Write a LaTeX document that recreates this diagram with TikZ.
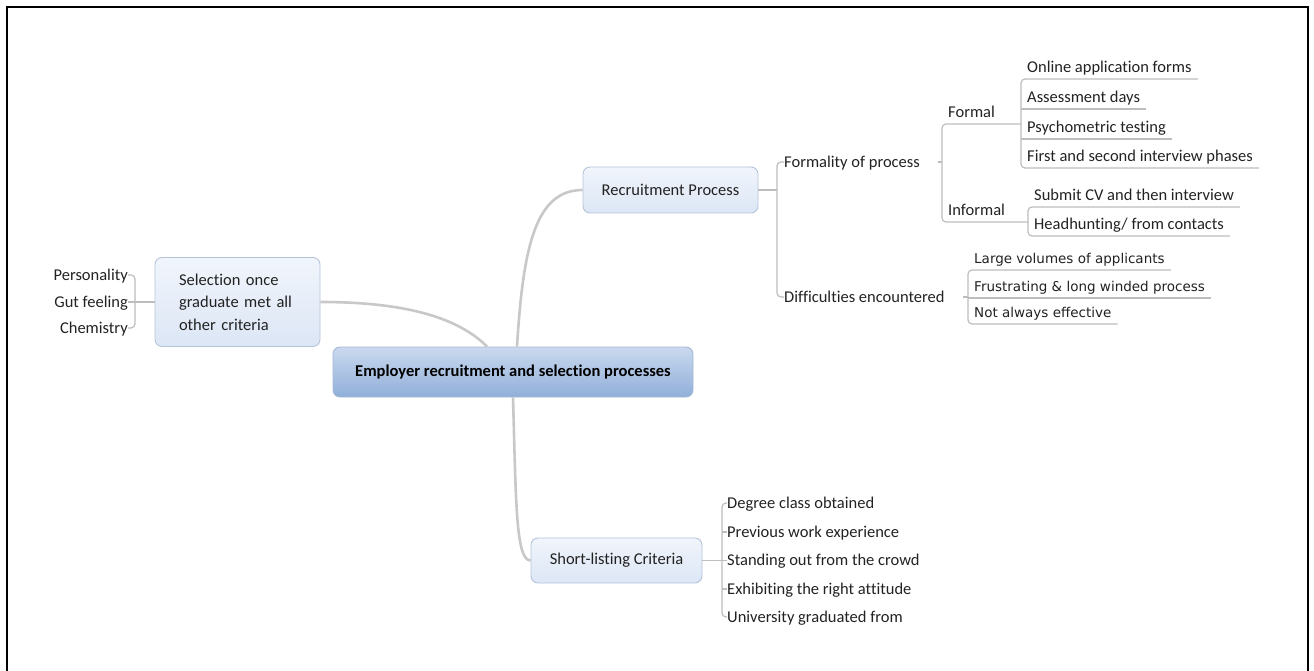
\documentclass[tikz,border=0pt]{standalone}
\usepackage{fontspec}
\setmainfont{Carlito}[Ligatures={NoCommon}]
\newfontfamily\verd{DejaVu Sans}
\definecolor{ink}{HTML}{222222}
\definecolor{branchgray}{HTML}{C8C8C8}
\definecolor{twiggray}{HTML}{BDBDBD}
\definecolor{boxtop}{HTML}{F1F5FC}
\definecolor{boxbot}{HTML}{DCE6F5}
\definecolor{boxline}{HTML}{B4C4DA}
\definecolor{centop}{HTML}{CAD9EE}
\definecolor{cenbot}{HTML}{90AFD9}
\definecolor{cenline}{HTML}{A3B8D5}
\begin{document}
\begin{tikzpicture}[x=1pt,y=-1pt,
  every node/.style={font=\fontsize{16.5}{22.5}\selectfont, text=ink},
  central/.style={draw=cenline, line width=0.9pt, rounded corners=7pt,
    top color=centop, bottom color=cenbot, text=black,
    font=\fontsize{16.5}{20}\selectfont\bfseries,
    minimum width=360pt, minimum height=50pt, inner sep=0pt},
  topic/.style={draw=boxline, line width=0.9pt, rounded corners=7pt,
    top color=boxtop, bottom color=boxbot, inner sep=0pt},
  leaf/.style={inner sep=0pt, text height=10.6pt, text depth=0pt},
  uleaf/.style={anchor=south west, inner xsep=6pt, inner ysep=2.7pt,
    text height=11pt, text depth=4pt},
  vleaf/.style={uleaf, font=\verd\fontsize{13.5}{16}\selectfont},
  branch/.style={draw=branchgray, line width=2.6pt},
  twig/.style={draw=twiggray, line width=1.2pt, rounded corners=4pt}]

\useasboundingbox (0,0) rectangle (1314,671);

% page frame, open at the bottom
\draw[line width=2pt] (7,671) -- (7,7) -- (1308,7) -- (1308,671);

% central topic and main topics
\node[central] (root) at (513,372) {Employer recruitment and selection processes};
\node[topic, minimum width=175pt, minimum height=46pt] (rp) at (670.5,190) {Recruitment Process};
\node[topic, minimum height=89pt, align=left, text width=117pt, inner xsep=24pt]
  (sel) at (237.5,302) {Selection once\\graduate met all\\other criteria};
\node[topic, minimum width=171pt, minimum height=45pt] (sl) at (616.5,560.5) {Short-listing Criteria};

% recruitment process sub-topics
\node[leaf, anchor=west] (form) at (784,162) {Formality of process};
\node[leaf, anchor=west] (diff) at (784,297) {Difficulties encountered};

\node[uleaf, text width=67pt, align=left] (formal) at (942,124) {Formal};
\node[uleaf, text width=74pt, align=left] (informal) at (942,222) {Informal};

\node[uleaf] (o1) at (1021,79) {Online application forms};
\node[uleaf] (o2) at (1021,109) {Assessment days};
\node[uleaf] (o3) at (1021,139) {Psychometric testing};
\node[uleaf] (o4) at (1021,168) {First and second interview phases};

\node[uleaf] (i1) at (1028,207) {Submit CV and then interview};
\node[uleaf] (i2) at (1028,236) {Headhunting/ from contacts};

\node[vleaf] (d1) at (968,270) {Large volumes of applicants};
\node[vleaf] (d2) at (968,298) {Frustrating \& long winded process};
\node[vleaf] (d3) at (968,324) {Not always effective};

% selection sub-topics
\node[leaf, anchor=east] (p1) at (128,275) {Personality};
\node[leaf, anchor=east] (p2) at (128,302) {Gut feeling};
\node[leaf, anchor=east] (p3) at (128,328) {Chemistry};

% short-listing sub-topics
\node[leaf, anchor=west] (s1) at (727,503) {Degree class obtained};
\node[leaf, anchor=west] (s2) at (727,532) {Previous work experience};
\node[leaf, anchor=west] (s3) at (727,560.5) {Standing out from the crowd};
\node[leaf, anchor=west] (s4) at (727,589) {Exhibiting the right attitude};
\node[leaf, anchor=west] (s5) at (727,617) {University graduated from};

% main branches
\draw[branch] ([xshift=4pt]root.north) .. controls +(6,-97) and +(-48,0) .. (rp.west);
\draw[branch] ([xshift=-26pt]root.north) .. controls +(-27,-27) and +(90,0) .. (sel.east);
\draw[branch] (root.south) .. controls +(3,103) and +(-15,0) .. (sl.west);

% recruitment process connectors
\draw[twig] (rp.east) -- ++(19,0);
\draw[twig] (form.west) -- ++(-7,0) |- (diff.west);
\draw[twig] ([xshift=18pt]form.east) -- (formal.south west |- form.east);
\draw[twig] (formal.south east) -- (formal.south west) -- (informal.south west) -- (informal.south east);
\draw[twig] (o1.south east) -- (o1.south west) -- (o4.south west) -- (o4.south east);
\draw[twig] (o2.south west) -- (o2.south east);
\draw[twig] (o3.south west) -- (o3.south east);
\draw[twig] (i1.south east) -- (i1.south west) -- (i2.south west) -- (i2.south east);
\draw[twig] ([xshift=18pt]diff.east) -- (d1.south west |- diff.east);
\draw[twig] (d1.south east) -- (d1.south west) -- (d3.south west) -- (d3.south east);
\draw[twig] (d2.south west) -- (d2.south east);

% selection connectors
\draw[twig] (sel.west) -- (p2.east);
\draw[twig] (p1.east) -- ++(7,0) |- (p3.east);

% short-listing connectors
\draw[twig] (sl.east) -- (s3.west);
\draw[twig] (s1.west) -- ++(-5,0) |- (s5.west);
\draw[twig] (s2.west) -- ++(-5,0);
\draw[twig] (s4.west) -- ++(-5,0);
\end{tikzpicture}
\end{document}
